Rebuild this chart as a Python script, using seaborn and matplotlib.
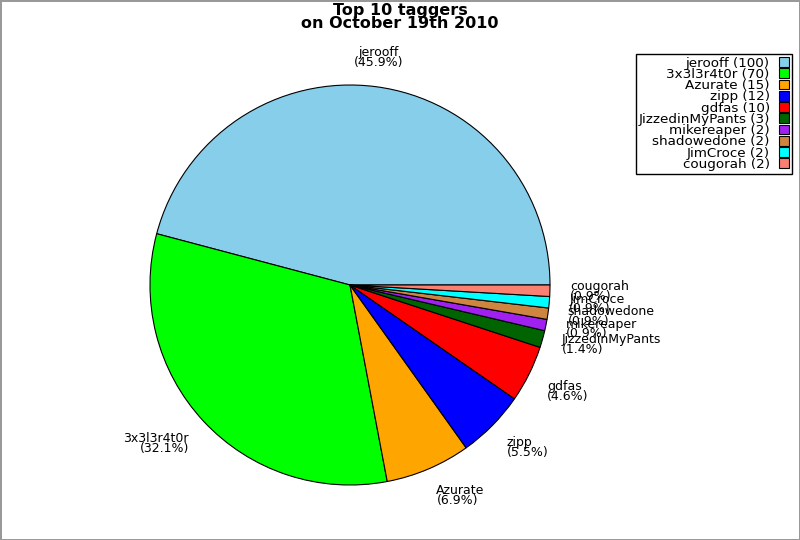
import numpy as np
import matplotlib
matplotlib.use("Agg")
import matplotlib.pyplot as plt
import seaborn as sns

names = ["jerooff", "3x3l3r4t0r", "Azurate", "zipp", "gdfas",
         "JizzedinMyPants", "mikereaper", "shadowedone", "JimCroce", "cougorah"]
counts = [100, 70, 15, 12, 10, 3, 2, 2, 2, 2]
colors = ["#87CEEB", "#00FF00", "#FFA500", "#0000FF", "#FF0000",
          "#006400", "#A020F0", "#CD853F", "#00FFFF", "#FA8072"]
title = "Top 10 taggers\non October 19th 2010"

sns.set_theme(style="white")
plt.rcParams['font.family'] = ['DejaVu Sans']

W, H = 800, 540
fig = plt.figure(figsize=(W / 100, H / 100), dpi=100)
fig.patch.set_facecolor("white")
fig.patch.set_edgecolor("#999999")
fig.patch.set_linewidth(2)

ax = fig.add_axes([0, 0, 1, 1])

cx, cy, R = 350, H - 285, 200
wedges, _ = ax.pie(counts, colors=colors, startangle=0, counterclock=True,
                   center=(cx, cy), radius=R, frame=True,
                   wedgeprops=dict(edgecolor="black", linewidth=0.8))
ax.set_xlim(0, W)
ax.set_ylim(0, H)
ax.set_axis_off()

total = float(sum(counts))
cum = 0.0
for n, c in zip(names, counts):
    mid = (cum + c / 2) / total * 2 * np.pi
    cum += c
    co, si = np.cos(mid), np.sin(mid)
    x = cx + 1.1 * R * co
    y = cy + 1.1 * R * si
    if abs(co) < 0.2:
        ha = "center"
    else:
        ha = "left" if co > 0 else "right"
    if si > 0.4:
        va = "bottom"
        y -= 2
    elif si < -0.4:
        va = "top"
        y += 3
    else:
        va = "center"
    ax.text(x, y, f"{n}\n({c / total * 100:.1f}%)", ha=ha, va=va,
            multialignment=ha, fontsize=9, linespacing=0.68, color="black")

fig.text(0.5, 1 - 3 / H, title, ha="center", va="top", fontsize=11.5,
         fontweight="bold", linespacing=0.8, color="black")

leg = fig.legend(wedges, [f"{n} ({c})" for n, c in zip(names, counts)],
                 loc="upper right", bbox_to_anchor=(792 / W, 1 - 54 / H),
                 bbox_transform=fig.transFigure, borderaxespad=0,
                 markerfirst=False, fontsize=9.7, labelspacing=-0.13,
                 handlelength=0.75, handleheight=0.75, handletextpad=0.7,
                 borderpad=0.2, fancybox=False, framealpha=1,
                 edgecolor="black", frameon=True)
leg.get_frame().set_linewidth(1.0)
for t in leg.get_texts():
    t.set_color("black")

fig.savefig("out.png", dpi=100, facecolor=fig.get_facecolor(),
            edgecolor=fig.get_edgecolor())
